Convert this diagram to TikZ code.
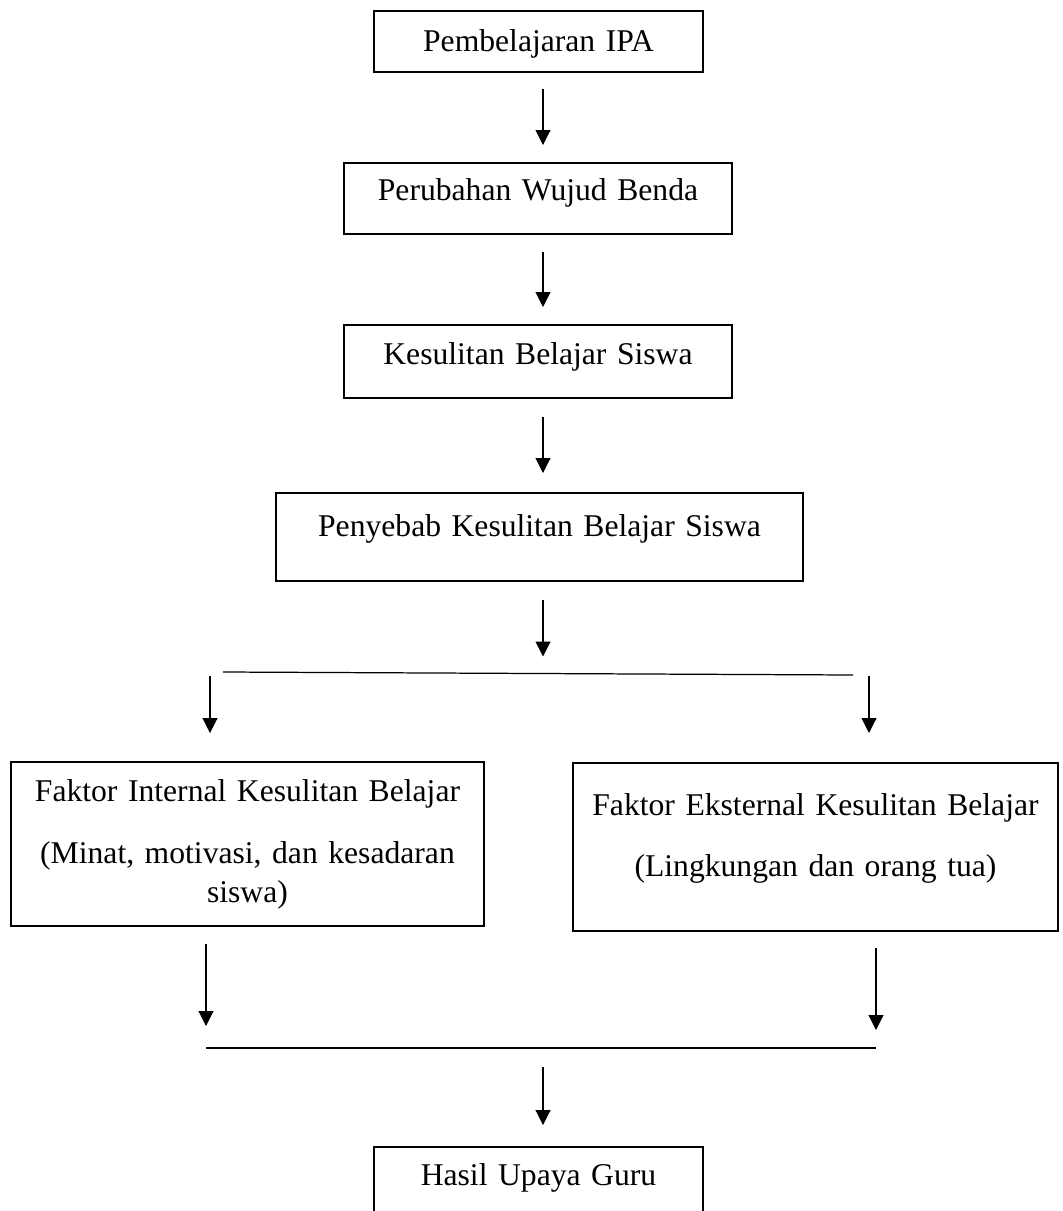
\documentclass[tikz,border=0pt]{standalone}
\usepackage{fontspec}
\setmainfont{Liberation Serif}
\usepackage{tikz}
\usetikzlibrary{positioning, calc, arrows.meta}
\tikzset{
    kotak/.style={
        draw, line width=1.1pt, align=center, inner sep=0pt, anchor=north,
        font=\fontsize{18}{22.2}\selectfont
    },
    panah/.style={
        -{Triangle[width=0.3cm, length=0.3cm]}, line width=0.6pt,
        shorten <=0.34cm, shorten >=0.34cm
    },
    garis/.style={
        line width=0.7pt
    }
}

\begin{document}
\begin{tikzpicture}
    \useasboundingbox (0,0) rectangle (21.24,-24.22);

    % --- KOTAK ALUR UTAMA ---
    \node[kotak, text width=6.58cm, text height=0.82cm, text depth=0.40cm] (ipa) at (10.77,-0.20) {Pembelajaran IPA};
    \node[kotak, text width=7.76cm, text height=0.76cm, text depth=0.66cm] (wujud) at (10.76,-3.24) {Perubahan Wujud Benda};
    \node[kotak, text width=7.76cm, text height=0.80cm, text depth=0.66cm] (sulit) at (10.76,-6.48) {Kesulitan Belajar Siswa};
    \node[kotak, text width=10.54cm, text height=0.88cm, text depth=0.88cm] (sebab) at (10.79,-9.84) {Penyebab Kesulitan Belajar Siswa};

    % --- FAKTOR KIRI DAN KANAN ---
    \node[kotak, text width=9.46cm, text height=0.80cm, text depth=2.48cm] (internal) at (4.95,-15.22)
        {Faktor Internal Kesulitan Belajar\\[13pt](Minat, motivasi, dan kesadaran\\siswa)};
    \node[kotak, text width=9.70cm, text height=1.06cm, text depth=2.30cm] (eksternal) at (16.31,-15.24)
        {Faktor Eksternal Kesulitan Belajar\\[12pt](Lingkungan dan orang tua)};

    % --- HASIL (terpotong di bawah) ---
    \node[kotak, text width=6.58cm, text height=0.78cm, text depth=0.80cm] (hasil) at (10.77,-22.92) {Hasil Upaya Guru};

    % titik bantu untuk panah dan garis cabang
    \coordinate (poros) at (10.86,0);
    \coordinate (c1a) at (4.46,-13.44);
    \coordinate (c1b) at (17.06,-13.50);
    \coordinate (kiri) at (4.20,-13.52);
    \coordinate (kanan) at (17.38,-13.52);
    \coordinate (g1) at (4.12,-20.96);
    \coordinate (g2) at (17.52,-20.96);

    % --- PANAH ---
    \draw[panah, shorten <=0.32cm] (ipa.south -| poros) -- (wujud.north -| poros);
    \draw[panah] (wujud.south -| poros) -- (sulit.north -| poros);
    \draw[panah, shorten <=0.36cm, shorten >=0.38cm] (sulit.south -| poros) -- (sebab.north -| poros);
    \draw[panah, shorten <=0.36cm, shorten >=0.31cm] (sebab.south -| poros) -- (poros |- c1a);

    \draw[garis] (c1a) -- (c1b);
    \draw[panah, shorten <=0pt, shorten >=0.56cm] (kiri) -- (kiri |- internal.north);
    \draw[panah, shorten <=0pt, shorten >=0.58cm] (kanan) -- (kanan |- eksternal.north);

    \draw[panah, shorten >=0.44cm] (internal.south -| g1) -- (g1);
    \draw[panah, shorten <=0.32cm, shorten >=0.36cm] (eksternal.south -| g2) -- (g2);
    \draw[garis] (g1) -- (g2);
    \draw[panah, shorten <=0.38cm, shorten >=0.42cm] (g1 -| poros) -- (hasil.north -| poros);

\end{tikzpicture}
\end{document}
